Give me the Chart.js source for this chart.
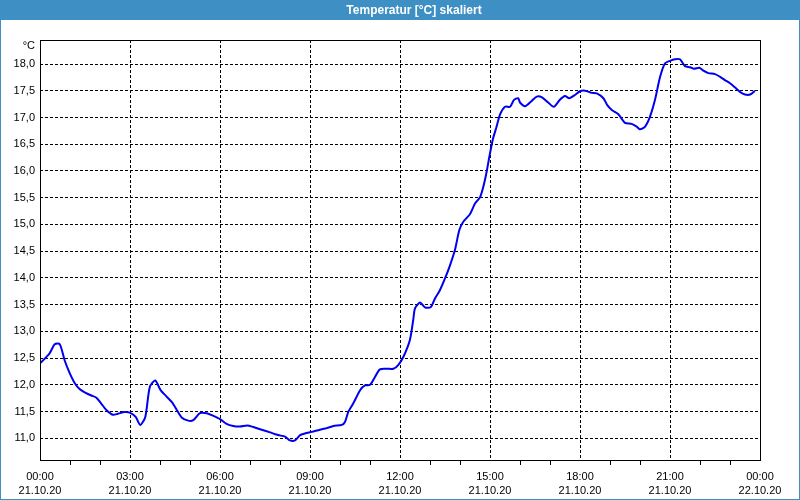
<!DOCTYPE html>
<html>
<head>
<meta charset="utf-8">
<script src="https://cdn.jsdelivr.net/npm/chart.js@4/dist/chart.umd.min.js"></script>
<style>
  html, body { margin: 0; padding: 0; background: #ffffff; }
  #wrap { width: 800px; height: 500px; position: relative; }
</style>
</head>
<body>
<div id="wrap"><canvas id="c" width="800" height="500"></canvas></div>
<script>
// Time of day in hours since 21.10.20 00:00
const timeHours = [0.0,0.32,0.49,0.66,0.82,0.99,1.16,1.32,1.49,1.71,1.88,2.04,2.21,2.43,2.60,2.82,2.99,3.19,3.34,3.51,3.66,3.84,4.02,4.22,4.39,4.56,4.72,4.94,5.11,5.33,5.56,5.78,6.00,6.22,6.44,6.67,6.91,7.11,7.39,7.67,7.94,8.17,8.33,8.50,8.67,8.83,9.06,9.33,9.56,9.78,10.06,10.17,10.28,10.44,10.67,10.83,11.00,11.17,11.33,11.56,11.78,11.94,12.11,12.33,12.44,12.50,12.67,12.83,13.02,13.17,13.33,13.50,13.67,13.83,13.98,14.11,14.33,14.50,14.67,14.78,14.89,14.98,15.09,15.22,15.33,15.50,15.67,15.80,15.94,16.00,16.17,16.39,16.56,16.72,16.94,17.13,17.33,17.50,17.64,17.83,18.00,18.17,18.39,18.56,18.78,18.91,19.06,19.28,19.50,19.72,19.89,20.00,20.17,20.33,20.50,20.67,20.83,21.00,21.17,21.33,21.50,21.67,21.80,21.98,22.13,22.28,22.50,22.67,22.83,23.00,23.17,23.33,23.50,23.67,23.83];
// Temperature in °C
const temps = [12.40,12.59,12.76,12.76,12.46,12.22,12.03,11.92,11.86,11.80,11.76,11.65,11.53,11.44,11.46,11.49,11.48,11.40,11.25,11.40,11.96,12.08,11.90,11.78,11.68,11.53,11.39,11.33,11.34,11.47,11.47,11.42,11.36,11.27,11.23,11.22,11.24,11.21,11.16,11.11,11.06,11.03,10.96,10.96,11.06,11.09,11.12,11.16,11.19,11.23,11.25,11.31,11.50,11.65,11.90,11.99,12.00,12.15,12.29,12.30,12.30,12.37,12.52,12.84,13.21,13.43,13.54,13.45,13.45,13.62,13.77,13.99,14.24,14.52,14.90,15.05,15.19,15.39,15.51,15.71,15.99,16.27,16.58,16.83,17.05,17.20,17.20,17.33,17.36,17.28,17.21,17.31,17.39,17.38,17.28,17.20,17.33,17.40,17.36,17.42,17.49,17.50,17.46,17.45,17.36,17.23,17.14,17.06,16.90,16.88,16.83,16.78,16.83,17.01,17.33,17.76,18.01,18.06,18.09,18.09,17.96,17.94,17.91,17.93,17.87,17.83,17.81,17.76,17.70,17.64,17.56,17.48,17.43,17.43,17.50];
// X tick labels (every 3 hours)
const xTickHours = [0,3,6,9,12,15,18,21,24];
const xTickTimes = ['00:00','03:00','06:00','09:00','12:00','15:00','18:00','21:00','00:00'];
const xTickDates = ['21.10.20','21.10.20','21.10.20','21.10.20','21.10.20','21.10.20','21.10.20','21.10.20','22.10.20'];
const titleText = 'Temperatur [°C] skaliert';
const unitLabel = '°C';

const points = timeHours.map((h, i) => ({ x: h, y: temps[i] }));
const BLUE_BAR = '#3d8fc4';

const framePlugin = {
  id: 'frame',
  beforeDraw(chart) {
    const ctx = chart.ctx;
    ctx.save();
    ctx.fillStyle = '#ffffff';
    ctx.fillRect(0, 0, 800, 500);
    ctx.fillStyle = BLUE_BAR;
    ctx.fillRect(0, 0, 800, 20);
    ctx.strokeStyle = BLUE_BAR;
    ctx.lineWidth = 1;
    ctx.strokeRect(0.5, 0.5, 799, 499);
    ctx.fillStyle = '#ffffff';
    ctx.font = 'bold 12px "Liberation Sans", Arial, sans-serif';
    ctx.textAlign = 'center';
    ctx.textBaseline = 'middle';
    ctx.fillText(titleText, 414, 10.5);
    ctx.restore();
  },
  afterDraw(chart) {
    const ctx = chart.ctx;
    const a = chart.chartArea;
    ctx.save();
    ctx.strokeStyle = '#000000';
    ctx.lineWidth = 1;
    ctx.strokeRect(Math.round(a.left) + 0.5, Math.round(a.top) + 0.5, Math.round(a.right - a.left), Math.round(a.bottom - a.top));
    ctx.fillStyle = '#000000';
    ctx.font = '11px "Liberation Sans", Arial, sans-serif';
    ctx.textAlign = 'right';
    ctx.textBaseline = 'middle';
    ctx.fillText(unitLabel, 35, 46);
    ctx.restore();
  }
};

new Chart(document.getElementById('c'), {
  type: 'line',
  data: {
    datasets: [{
      data: points,
      borderColor: '#0000ee',
      borderWidth: 2,
      pointRadius: 0,
      tension: 0.25,
      fill: false
    }]
  },
  options: {
    responsive: false,
    animation: false,
    devicePixelRatio: 1,
    layout: { padding: { top: 40, right: 40, left: 0, bottom: 0 } },
    plugins: { legend: { display: false }, title: { display: false }, tooltip: { enabled: false } },
    scales: {
      x: {
        type: 'linear',
        min: 0, max: 24,
        afterFit: s => { s.height = 40; },
        border: { display: false, dash: [3, 2] },
        grid: {
          color: c => (c.tick && c.tick.value % 3 === 0) ? '#000000' : 'rgba(0,0,0,0)',
          tickColor: c => (c.tick && c.tick.value % 3 === 0) ? 'rgba(0,0,0,0)' : '#000000',
          tickLength: 5,
          tickBorderDash: [],
          lineWidth: 1,
          drawTicks: true
        },
        ticks: {
          stepSize: 1,
          autoSkip: false,
          maxRotation: 0,
          padding: 5,
          color: '#000000',
          font: { family: '"Liberation Sans", Arial, sans-serif', size: 11, lineHeight: '14px' },
          callback: v => {
            const i = xTickHours.indexOf(v);
            return i >= 0 ? [xTickTimes[i], xTickDates[i]] : '';
          }
        }
      },
      y: {
        min: 10.594, max: 18.449,
        afterFit: s => { s.width = 40; },
        border: { display: false, dash: [3, 2] },
        grid: { color: '#000000', lineWidth: 1, drawTicks: false },
        ticks: {
          stepSize: 0.5,
          includeBounds: false,
          padding: 5,
          color: '#000000',
          font: { family: '"Liberation Sans", Arial, sans-serif', size: 11 },
          callback: v => v.toFixed(1).replace('.', ',')
        }
      }
    }
  },
  plugins: [framePlugin]
});
</script>
</body>
</html>
